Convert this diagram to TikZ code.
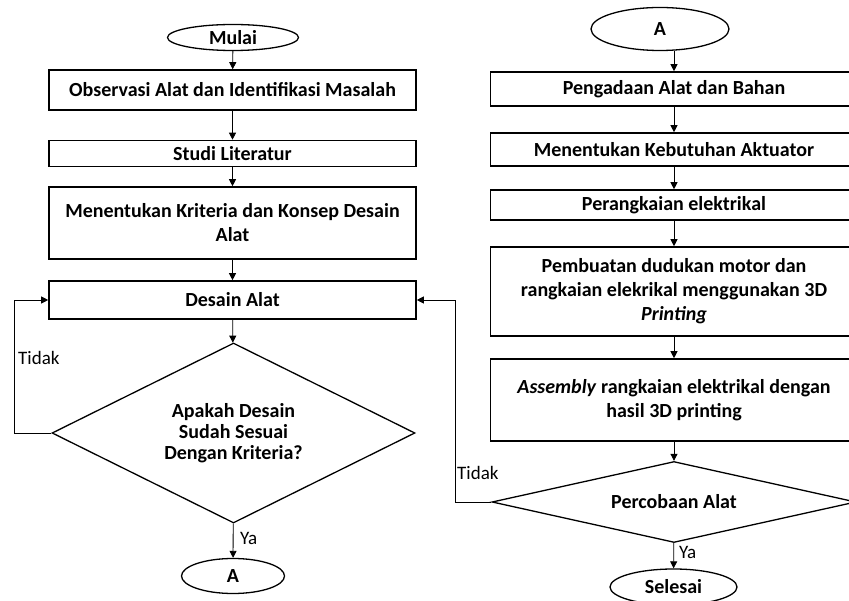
\documentclass[tikz,border=0pt]{standalone}
\usepackage{fontspec}
\setmainfont{Carlito}
\usetikzlibrary{
    positioning,
    arrows.meta,
    shapes.geometric
}

\begin{document}
\begin{tikzpicture}[x=1pt, y=-1pt, >={Triangle[length=7pt, width=7pt]},
    kotak/.style={draw, line width=1.6pt, minimum width=367pt,
        align=center, inner sep=0pt, font=\fontsize{20}{24}\selectfont\bfseries},
    terminal/.style={draw, ellipse, line width=1.3pt, inner sep=0pt,
        font=\fontsize{20}{24}\selectfont\bfseries},
    keputusan/.style={draw, diamond, line width=1.3pt, inner sep=0pt, align=center,
        font=\fontsize{20}{21}\selectfont\bfseries},
    panah/.style={->, line width=0.8pt},
    ket/.style={font=\fontsize{19}{20}\selectfont, inner sep=0pt}]
                % batas gambar
                \useasboundingbox (0,0) rectangle (849,601);
                \clip (0,0) rectangle (849,601);
                \fill[white] (0,0) rectangle (849,601);

                % kolom kiri
                \node[terminal, minimum width=131pt, minimum height=26pt] (mulai) at (233,37.5) {Mulai};
                \node[kotak, minimum height=40pt] (observasi) at (232.5,90) {Observasi Alat dan Identifikasi Masalah};
                \node[kotak, minimum height=26pt] (studi) at (232.5,153.5) {Studi Literatur};
                \node[kotak, minimum height=72pt] (kriteria) at (232.5,223) {Menentukan Kriteria dan Konsep Desain\\Alat};
                \node[kotak, minimum height=38pt] (desain) at (232.5,300) {Desain Alat};
                \node[keputusan, shape aspect=2, minimum width=363pt, minimum height=180pt] (cekdesain) at (233.5,433)
                    {Apakah Desain\\Sudah Sesuai\\Dengan Kriteria?};
                \node[terminal, minimum width=103pt, minimum height=35pt] (sambungA) at (233,576) {A};

                % kolom kanan
                \node[terminal, minimum width=138pt, minimum height=43pt] (sambungB) at (660,29) {A};
                \node[kotak, minimum height=34pt] (pengadaan) at (674,89) {Pengadaan Alat dan Bahan};
                \node[kotak, minimum height=33pt] (aktuator) at (674,149.5) {Menentukan Kebutuhan Aktuator};
                \node[kotak, minimum height=30pt] (elektrikal) at (674,205) {Perangkaian elektrikal};
                \node[kotak, minimum height=89pt] (dudukan) at (674,291.5)
                    {Pembuatan dudukan motor dan\\rangkaian elekrikal menggunakan 3D\\\textit{Printing}};
                \node[kotak, minimum height=82pt] (assembly) at (674,400)
                    {\textit{Assembly} rangkaian elektrikal dengan\\hasil 3D printing};
                \node[keputusan, shape aspect=4.5, minimum width=364pt, minimum height=81pt] (percobaan) at (674,502) {Percobaan Alat};
                \node[terminal, minimum width=127pt, minimum height=36pt] (selesai) at (673.5,587) {Selesai};

                % alur kiri
                \draw[panah] (mulai) -- (observasi);
                \draw[panah] (observasi) -- (studi);
                \draw[panah] (studi) -- (kriteria);
                \draw[panah] (kriteria) -- (desain);
                \draw[panah] (desain) -- (cekdesain);
                \draw[panah] (cekdesain) -- (sambungA);
                \draw[panah] (cekdesain.west) -- ++(-37,0) |- (desain.west);
                \node[ket, anchor=west] (yaA) at (240,538) {Ya};
                \node[ket, anchor=west] (tidakA) at (18,358) {Tidak};

                % alur kanan
                \draw[panah] (sambungB.south -| pengadaan.north) -- (pengadaan);
                \draw[panah] (pengadaan) -- (aktuator);
                \draw[panah] (aktuator) -- (elektrikal);
                \draw[panah] (elektrikal) -- (dudukan);
                \draw[panah] (dudukan) -- (assembly);
                \draw[panah] (assembly) -- (percobaan);
                \draw[panah] (percobaan) -- (selesai);
                \draw[panah] (percobaan.west) -- ++(-36,0) |- (desain.east);
                \node[ket, anchor=west] (yaB) at (679,552) {Ya};
                \node[ket, anchor=west] (tidakB) at (457,473) {Tidak};
            \end{tikzpicture}
\end{document}
